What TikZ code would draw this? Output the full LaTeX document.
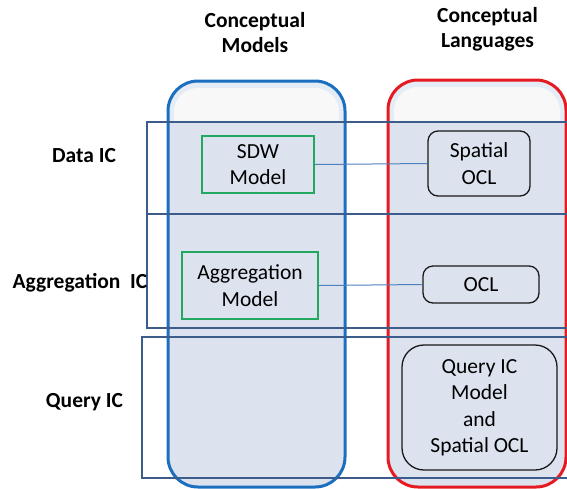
\documentclass[tikz,border=0pt]{standalone}
\usepackage{fontspec}
\setmainfont{Carlito}
\definecolor{colfill}{HTML}{DCE3EF}
\definecolor{coltop}{HTML}{F8F8F9}
\definecolor{colglow}{HTML}{E4ECF6}
\definecolor{bluecol}{HTML}{1C6EBF}
\definecolor{redcol}{HTML}{E51A22}
\definecolor{rowline}{HTML}{3C5D8C}
\definecolor{greenbox}{HTML}{22A860}
\definecolor{connline}{HTML}{4F81BD}
\newcommand{\boxfont}{\fontsize{21.5}{26.5}\selectfont}
\newcommand{\headfont}{\fontsize{21.5}{26}\selectfont\bfseries}
\tikzset{
  column/.style={rounded corners=30pt, line width=3pt, fill=colfill, inner sep=0pt},
  rowbox/.style={draw=rowline, line width=2pt},
  modelbox/.style={draw=greenbox, line width=1.5pt, fill=colfill, align=center, font=\boxfont, inner sep=0pt},
  langbox/.style={draw=black!90, line width=1.3pt, rounded corners=10pt, fill=colfill, align=center, font=\boxfont, inner sep=0pt},
  conn/.style={draw=connline, line width=1pt},
  header/.style={font=\headfont, anchor=base, inner sep=0pt},
}
\begin{document}
\begin{tikzpicture}[x=1pt,y=-1pt]
\useasboundingbox (0,0) rectangle (567,488);
% columns
\node[column, minimum width=177pt, minimum height=406pt] (colM) at (256.5,284) {};
\node[column, minimum width=178pt, minimum height=407pt] (colL) at (477,283.5) {};
% whitish top parts
\begin{scope}
  \clip (0,0) rectangle (567,122);
  \fill[colglow, rounded corners=28pt] (169.5,82.5) rectangle (343.5,200);
  \fill[coltop, rounded corners=24pt] (174,88) rectangle (339,200);
  \fill[colglow, rounded corners=28pt] (389.5,81.5) rectangle (564.5,200);
  \fill[coltop, rounded corners=24pt] (394,87) rectangle (560,200);
\end{scope}
\draw[bluecol, line width=3pt, rounded corners=30pt] (168,81) rectangle (345,487);
\draw[redcol, line width=3pt, rounded corners=30pt] (388,80) rectangle (566,487);
% rows
\draw[rowbox] (147,122) rectangle (590,328);
\draw[rowline, line width=1.5pt] (147,214) -- (590,214);
\draw[rowbox] (142,337) rectangle (590,478);
% headers
\node[header] (h1a) at (255,27) {Conceptual};
\node[header] (h1b) at (255,52) {Models};
\node[header] (h2a) at (487.5,22) {Conceptual};
\node[header] (h2b) at (487.5,47) {Languages};
% row labels
\node[header] (r1) at (84,162) {Data IC};
\node[header] (r2) at (80,288) {Aggregation\ \ IC};
\node[header] (r3) at (84.5,407) {Query IC};
% boxes
\node[modelbox, minimum width=112pt, minimum height=57pt] (sdw) at (258,164.5) {SDW\\Model};
\node[langbox, minimum width=102pt, minimum height=65pt] (socl) at (479,163.5) {Spatial\\OCL};
\node[modelbox, minimum width=136pt, minimum height=67pt] (agg) at (250,285.5) {Aggregation\\Model};
\node[langbox, minimum width=116pt, minimum height=37pt] (ocl) at (481,284.5) {OCL};
\node[langbox, rounded corners=22pt, minimum width=155pt, minimum height=125pt] (qry) at (479.5,407.5) {Query IC\\Model\\and\\Spatial OCL};
% connectors
\draw[conn] (sdw.east) -- (socl.west);
\draw[conn] (agg.east) -- (ocl.west);
\end{tikzpicture}
\end{document}
